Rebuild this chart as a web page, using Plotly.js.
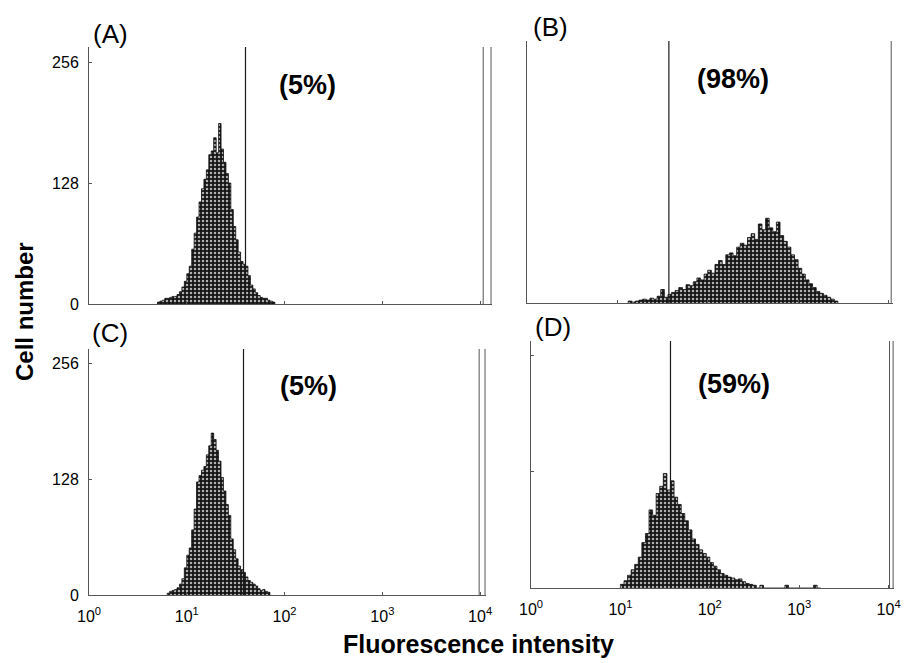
<!DOCTYPE html>
<html>
<head>
<meta charset="utf-8">
<script src="https://cdn.plot.ly/plotly-3.0.1.min.js"></script>
<style>
html,body{margin:0;padding:0;background:#fff;}
#chart{width:904px;height:663px;}
</style>
</head>
<body>
<div id="chart"></div>
<script>
// ---- data: log10 fluorescence (bin start) and cell counts per bin ----
const logA = [0.700,0.725,0.750,0.775,0.800,0.825,0.850,0.875,0.900,0.925,0.950,0.975,
  1.000,1.025,1.050,1.075,1.100,1.125,1.150,1.175,1.200,1.225,1.250,1.275,1.300,1.325,
  1.350,1.375,1.400,1.425,1.450,1.475,1.500,1.525,1.550,1.575,1.600,1.625,1.650,1.675,
  1.700,1.725,1.750,1.775,1.800,1.825,1.850,1.875];
const cntA = [2,3,4,6,6,7,8,8,10,13,18,24,
  32,40,58,75,92,108,122,132,142,158,162,176,160,191,
  164,150,138,128,100,82,68,55,45,42,40,30,20,16,
  12,9,7,6,6,4,3,2];

const logB = [1.12,1.16,1.20,1.24,1.28,1.32,1.36,1.40,1.44,1.48,
  1.52,1.56,1.60,1.64,1.68,1.72,1.76,1.80,1.84,1.88,
  1.92,1.96,2.00,2.04,2.08,2.12,2.16,2.20,2.24,2.28,
  2.32,2.36,2.40,2.44,2.48,2.52,2.56,2.60,2.64,2.68,
  2.72,2.76,2.80,2.84,2.88,2.92,2.96,3.00,3.04,3.08,
  3.12,3.16,3.20,3.24,3.28,3.32,3.36,3.40];
const cntB = [2,1,2,3,4,3,5,4,7,14,
  6,9,11,13,16,14,19,18,22,26,
  24,30,34,31,40,44,40,50,52,49,
  58,62,60,68,72,66,82,76,88,78,
  74,84,70,64,58,50,45,36,30,24,
  20,16,12,10,8,6,4,2];

const logC = [0.800,0.825,0.850,0.875,0.900,0.925,0.950,0.975,1.000,1.025,
  1.050,1.075,1.100,1.125,1.150,1.175,1.200,1.225,1.250,1.275,
  1.300,1.325,1.350,1.375,1.400,1.425,1.450,1.475,1.500,1.525,
  1.550,1.575,1.600,1.625,1.650,1.675,1.700,1.725,1.750,1.775,
  1.800,1.825];
const cntC = [2,4,5,6,8,12,18,30,44,52,
  72,95,125,132,138,142,155,165,179,172,
  160,148,130,115,100,88,62,50,40,32,
  28,25,20,16,14,12,10,7,5,6,
  4,3];

const logD = [1.00,1.04,1.08,1.12,1.16,1.20,1.24,1.28,1.32,1.36,
  1.40,1.44,1.48,1.52,1.56,1.60,1.64,1.68,1.72,1.76,
  1.80,1.84,1.88,1.92,1.96,2.00,2.04,2.08,2.12,2.16,
  2.20,2.24,2.28,2.32,2.36,2.40,2.44,2.48,2.52,2.56,
  2.60,2.64,2.68,2.72,2.76,2.80,2.84,2.88,2.92,2.96,
  3.00,3.04,3.08,3.12,3.16,3.20];
const cntD = [4,8,14,20,26,34,50,60,86,80,
  104,112,126,108,118,100,92,82,74,64,
  54,48,42,38,34,28,24,20,16,14,
  12,11,9,10,7,5,4,3,0,3,
  0,0,0,0,0,0,3,0,0,0,
  0,0,0,0,3,0];

const panelLabels = ['(A)','(B)','(C)','(D)'];
const percentLabels = ['(5%)','(98%)','(5%)','(59%)'];
const gateLogs = [1.60, 1.57, 1.58, 1.56];        // marker gate (log10 intensity)
const endLogs = [[4.03,4.11],[4.03],[3.99,4.05],[4.01,4.05]]; // upper-limit markers
const yTickVals = [0,128,256];
const yTickText = ['0','128','256'];
const xTickVals = [1,10,100,1000,10000];
const xTickText = ['10<sup>0</sup>','10<sup>1</sup>','10<sup>2</sup>','10<sup>3</sup>','10<sup>4</sup>'];

// ---- layout geometry (pixels) ----
const W = 904, H = 663;
const panels = [
  {logs: logA, cnt: cntA, xd:[89,492], xr:[0,4.12], yd:[304,47], xl:false, yl:true, yt:'inside'},
  {logs: logB, cnt: cntB, xd:[527,893], xr:[0,4.05], yd:[303,41], xl:false, yl:false, yt:''},
  {logs: logC, cnt: cntC, xd:[89,486], xr:[0,4.06], yd:[595,349], xl:true, yl:true, yt:'inside'},
  {logs: logD, cnt: cntD, xd:[531,894], xr:[0,4.06], yd:[588,341], xl:true, yl:false, yt:'inside'}
];
const yTop = 272;
const FONT = 'Liberation Sans, Arial, Helvetica, sans-serif';

const traces = [];
const layout = {
  width: W, height: H,
  margin: {l:0, r:0, t:0, b:0},
  paper_bgcolor: '#ffffff',
  plot_bgcolor: 'rgba(0,0,0,0)',
  showlegend: false,
  font: {family: FONT, color: '#111'},
  annotations: []
};

panels.forEach((p, i) => {
  const n = i + 1;
  const xa = 'x' + (n === 1 ? '' : n);
  const ya = 'y' + (n === 1 ? '' : n);
  const step = p.logs[1] - p.logs[0];
  const xs = p.logs.map(l => Math.pow(10, l));
  xs.push(Math.pow(10, p.logs[p.logs.length - 1] + step));
  const ys = p.cnt.slice();
  ys.push(0);
  xs.unshift(xs[0]); ys.unshift(0);
  traces.push({
    type: 'scatter', mode: 'lines', x: xs, y: ys, xaxis: xa, yaxis: ya,
    line: {shape: 'hv', color: '#0d0d0d', width: 0.8},
    fill: 'tozeroy',
    fillcolor: '#1a1a1a',
    fillpattern: {shape: '.', bgcolor: '#151515', fgcolor: '#b0b0b0', size: 4, solidity: 0.3},
    hoverinfo: 'skip'
  });
  // gate line
  const g = Math.pow(10, gateLogs[i]);
  traces.push({
    type: 'scatter', mode: 'lines', x: [g, g], y: [0, yTop], xaxis: xa, yaxis: ya,
    line: {color: '#1a1a1a', width: 1.2}, hoverinfo: 'skip'
  });
  endLogs[i].forEach(e => {
    const v = Math.pow(10, e);
    traces.push({
      type: 'scatter', mode: 'lines', x: [v, v], y: [0, yTop], xaxis: xa, yaxis: ya,
      line: {color: '#555', width: 1}, hoverinfo: 'skip'
    });
  });

  const xKey = 'xaxis' + (n === 1 ? '' : n);
  const yKey = 'yaxis' + (n === 1 ? '' : n);
  layout[xKey] = {
    type: 'log', domain: [p.xd[0] / W, p.xd[1] / W], range: p.xr,
    anchor: ya, showgrid: false, zeroline: false,
    showline: true, linecolor: '#555', linewidth: 1,
    ticks: 'inside', ticklen: 3, tickcolor: '#555',
    tickmode: 'array', tickvals: xTickVals, ticktext: xTickText,
    showticklabels: p.xl, ticklabelstandoff: 7, ticklabeloverflow: 'allow',
    tickfont: {family: FONT, size: 16, color: '#000'},
    fixedrange: true
  };
  layout[yKey] = {
    domain: [1 - p.yd[0] / H, 1 - p.yd[1] / H], range: [0, yTop],
    anchor: xa, showgrid: false, zeroline: false,
    showline: true, linecolor: '#555', linewidth: 1,
    ticks: p.yt, ticklen: 3, tickcolor: '#555',
    tickmode: 'array', tickvals: yTickVals, ticktext: yTickText,
    showticklabels: p.yl, ticklabelstandoff: 6,
    tickfont: {family: FONT, size: 16, color: '#000'},
    fixedrange: true
  };
});

// text positions (pixels)
const panelLabelPos = [[110,34],[550,27],[110,333],[553,327]];
const percentPos = [[307,85],[733,79],[308,386],[734,384]];
panelLabels.forEach((t, i) => {
  layout.annotations.push({
    text: t, xref: 'paper', yref: 'paper',
    x: panelLabelPos[i][0] / W, y: 1 - panelLabelPos[i][1] / H,
    xanchor: 'center', yanchor: 'middle', showarrow: false,
    font: {family: FONT, size: 26, color: '#000'}
  });
});
percentLabels.forEach((t, i) => {
  layout.annotations.push({
    text: '<b>' + t + '</b>', xref: 'paper', yref: 'paper',
    x: percentPos[i][0] / W, y: 1 - percentPos[i][1] / H,
    xanchor: 'center', yanchor: 'middle', showarrow: false,
    font: {family: FONT, size: 27, color: '#000'}
  });
});
layout.annotations.push({
  text: '<b>Cell number</b>', xref: 'paper', yref: 'paper',
  x: 24 / W, y: 1 - 312 / H, xanchor: 'center', yanchor: 'middle',
  textangle: -90, showarrow: false,
  font: {family: FONT, size: 24, color: '#000'}
});
layout.annotations.push({
  text: '<b>Fluorescence intensity</b>', xref: 'paper', yref: 'paper',
  x: 478 / W, y: 1 - 644 / H, xanchor: 'center', yanchor: 'middle',
  showarrow: false,
  font: {family: FONT, size: 25, color: '#000'}
});

Plotly.newPlot('chart', traces, layout, {staticPlot: true, displayModeBar: false});
</script>
</body>
</html>
